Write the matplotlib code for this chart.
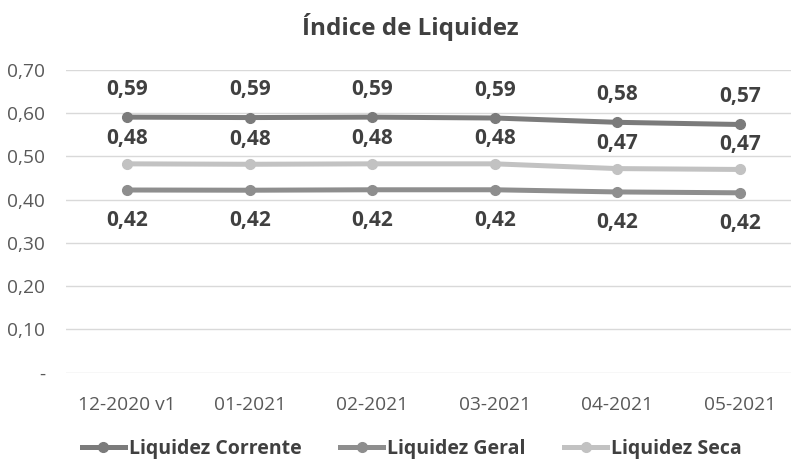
import matplotlib
matplotlib.use("Agg")
import matplotlib.pyplot as plt
from matplotlib.ticker import FixedLocator

plt.rcParams['font.family'] = ['Open Sans', 'DejaVu Sans']

categories = ["12-2020 v1", "01-2021", "02-2021", "03-2021", "04-2021", "05-2021"]
liq_corrente = [0.591, 0.590, 0.591, 0.589, 0.579, 0.574]
liq_geral = [0.4225, 0.422, 0.423, 0.423, 0.418, 0.416]
liq_seca = [0.483, 0.482, 0.483, 0.483, 0.472, 0.470]
corrente_labels = ["0,59", "0,59", "0,59", "0,59", "0,58", "0,57"]
geral_labels = ["0,42"] * 6
seca_labels = ["0,48", "0,48", "0,48", "0,48", "0,47", "0,47"]
yticks = [0.0, 0.1, 0.2, 0.3, 0.4, 0.5, 0.6, 0.7]
ytick_labels = ["-", "0,10", "0,20", "0,30", "0,40", "0,50", "0,60", "0,70"]

fig = plt.figure(figsize=(7.91, 4.59), dpi=100)
ax = fig.add_axes([66/791, (459-372.7)/459, (801-66)/791, (372.7-70)/459])

x = list(range(len(categories)))
c_cor, c_ger, c_sec = "#7b7b7b", "#8e8e8e", "#c2c2c2"
lw, ms = 3.6, 7
ax.plot(x, liq_corrente, color=c_cor, lw=lw, marker="o", ms=ms, label="Liquidez Corrente", zorder=5)
ax.plot(x, liq_geral, color=c_ger, lw=lw, marker="o", ms=ms, label="Liquidez Geral", zorder=4)
ax.plot(x, liq_seca, color=c_sec, lw=lw, marker="o", ms=ms, label="Liquidez Seca", zorder=3)

lab_kw = dict(textcoords="offset points", ha="center", va="center",
              fontsize=15, fontweight="bold", color="#404040")
for i in x:
    ax.annotate(corrente_labels[i], (i, liq_corrente[i]), xytext=(0, 20), **lab_kw)
    ax.annotate(seca_labels[i], (i, liq_seca[i]), xytext=(0, 18), **lab_kw)
    ax.annotate(geral_labels[i], (i, liq_geral[i]), xytext=(0, -22), **lab_kw)

ax.set_xlim(-0.5, 5.5)
ax.set_ylim(0, 0.7)
ax.yaxis.set_major_locator(FixedLocator(yticks))
ax.set_yticklabels(ytick_labels)
ax.set_xticks(x)
ax.set_xticklabels(categories)
ax.grid(axis="y", color="#d9d9d9", lw=1.0)
ax.set_axisbelow(True)
for s in ax.spines.values():
    s.set_visible(False)
ax.tick_params(axis="both", length=0, labelsize=13.8, labelcolor="#595959")
ax.tick_params(axis="y", pad=15)
ax.tick_params(axis="x", pad=17)

fig.text(410/791, 1 - 27/459, "Índice de Liquidez", ha="center", va="center",
         fontsize=17.5, fontweight="bold", color="#404040")

leg = fig.legend(loc="center", bbox_to_anchor=(412/791, 1 - 449/459), ncol=3, frameon=False,
                 prop={"size": 14, "weight": "bold"}, handlelength=2.2, columnspacing=2.0,
                 handletextpad=0.2)
for t in leg.get_texts():
    t.set_color("#404040")

fig.savefig("out.png", dpi=100)
